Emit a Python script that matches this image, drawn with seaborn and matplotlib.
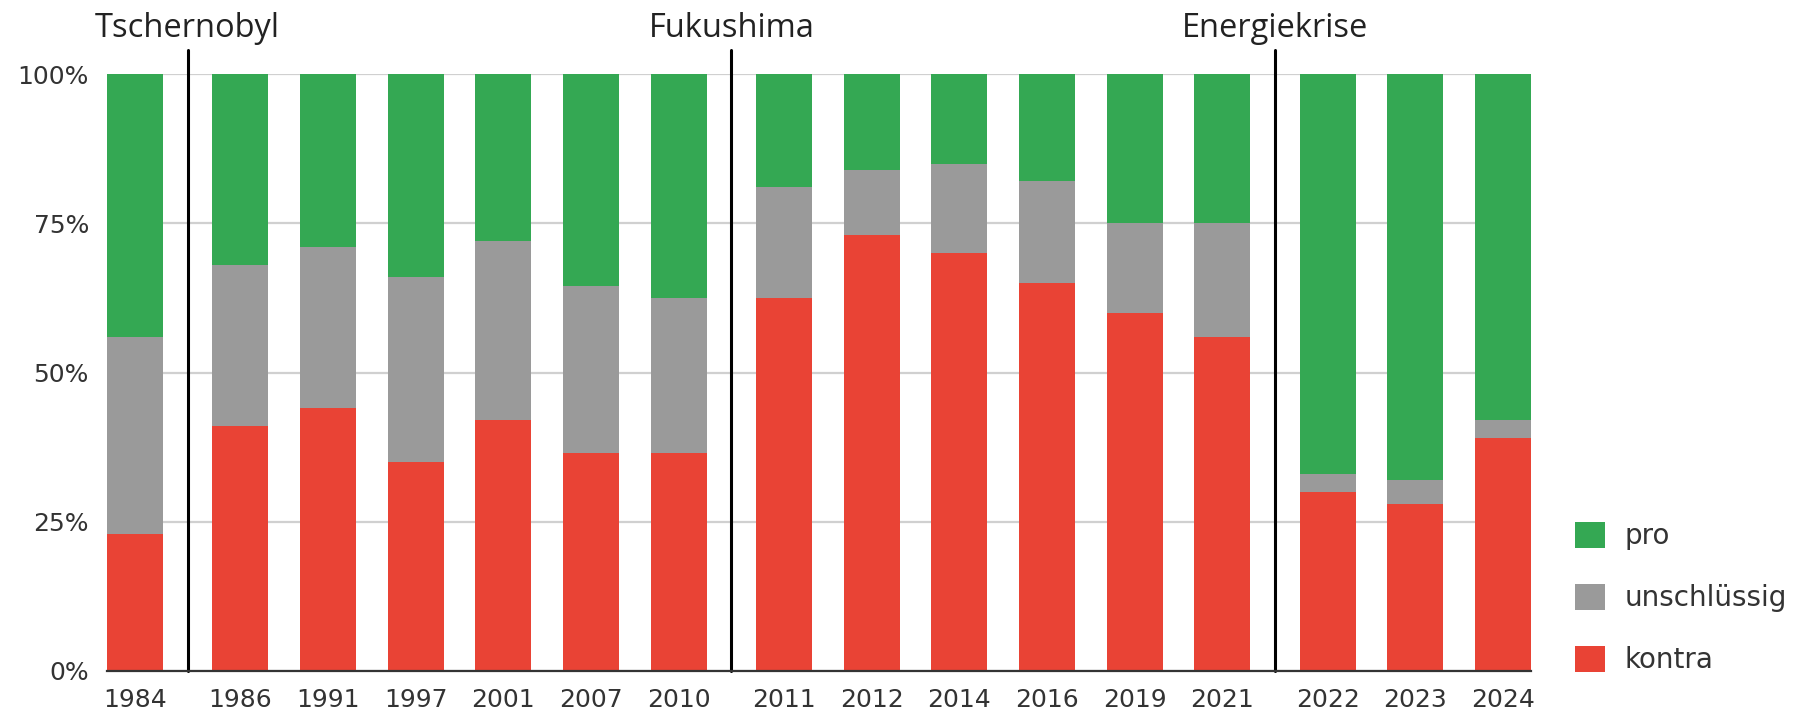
import matplotlib
matplotlib.use("Agg")
import matplotlib.pyplot as plt
import seaborn as sns
import pandas as pd
from matplotlib.patches import Patch

# ---------------- data ----------------
years = ["1984", "1986", "1991", "1997", "2001", "2007", "2010",
         "2011", "2012", "2014", "2016", "2019", "2021",
         "2022", "2023", "2024"]
kontra = [23, 41, 44, 35, 42, 36.5, 36.5, 62.5, 73, 70, 65, 60, 56, 30, 28, 39]
unschluessig = [33, 27, 27, 31, 30, 28, 26, 18.5, 11, 15, 17, 15, 19, 3, 4, 3]
pro = [44, 32, 29, 34, 28, 35.5, 37.5, 19, 16, 15, 18, 25, 25, 67, 68, 58]
# period each survey belongs to (separated by the events below)
period = [0, 1, 1, 1, 1, 1, 1, 2, 2, 2, 2, 2, 2, 3, 3, 3]
events = ["Tschernobyl", "Fukushima", "Energiekrise"]
series_labels = ["pro", "unschlüssig", "kontra"]
y_ticks = [0, 25, 50, 75, 100]
y_tick_labels = ["0%", "25%", "50%", "75%", "100%"]

# ---------------- style ----------------
GREEN = "#34a853"
GRAY = "#9a9a9a"
RED = "#e94335"
GROUP_GAP = 0.2
BAR_WIDTH = 0.64
W, H = 1808, 715

pos = [i + GROUP_GAP * g for i, g in enumerate(period)]
df = pd.DataFrame({"pos": pos, "year": years, "kontra": kontra,
                   "unschl": unschluessig, "pro": pro})
df["top_unschl"] = df["kontra"] + df["unschl"]
df["top_pro"] = df["top_unschl"] + df["pro"]

sns.set_theme(style="white")
plt.rcParams["font.family"] = ["DejaVu Sans"]

fig = plt.figure(figsize=(W / 100, H / 100), dpi=100)
ax = fig.add_axes([107 / W, (H - 671) / H, (1531 - 107) / W, (671 - 74) / H])

for col, color in [("top_pro", GREEN), ("top_unschl", GRAY), ("kontra", RED)]:
    sns.barplot(data=df, x="pos", y=col, native_scale=True, width=BAR_WIDTH,
                color=color, saturation=1, linewidth=0, errorbar=None,
                ax=ax, zorder=2)

ax.set_ylim(0, 100)
ax.set_xlim(pos[0] - BAR_WIDTH / 2, pos[-1] + BAR_WIDTH / 2)
ax.set_xlabel("")
ax.set_ylabel("")
ax.set_xticks(pos, years)
ax.set_yticks(y_ticks, y_tick_labels)
ax.tick_params(axis="both", length=0, labelsize=18, colors="#333333")
ax.tick_params(axis="x", pad=12)
ax.tick_params(axis="y", pad=13)

ax.set_axisbelow(True)
ax.yaxis.grid(True, color="#d0d0d0", lw=1.6)
ax.xaxis.grid(False)
for s in ["top", "right", "left"]:
    ax.spines[s].set_visible(False)
ax.spines["bottom"].set_color("#333333")
ax.spines["bottom"].set_linewidth(1.6)
ax.spines["bottom"].set_zorder(4)

# event separators
for k in range(1, 4):
    idx = period.index(k)
    xsep = (pos[idx - 1] + pos[idx]) / 2
    ax.axvline(xsep, ymin=0, ymax=1.04, color="black", lw=2.2,
               clip_on=False, zorder=3)
    ax.text(xsep, 106.2, events[k - 1], ha="center", va="baseline",
            fontsize=23.5, family=["Open Sans", "DejaVu Sans"], color="#222222")

handles = [Patch(facecolor=c, edgecolor="none", label=l)
           for c, l in zip([GREEN, GRAY, RED], series_labels)]
fig.legend(handles=handles, loc="center left",
           bbox_to_anchor=(1575 / W, (H - 598) / H), frameon=False,
           fontsize=20, labelcolor="#333333", handlelength=1.08,
           handleheight=1.08, handletextpad=0.72, labelspacing=1.2,
           borderpad=0, borderaxespad=0)

fig.savefig("out.png", dpi=100)
